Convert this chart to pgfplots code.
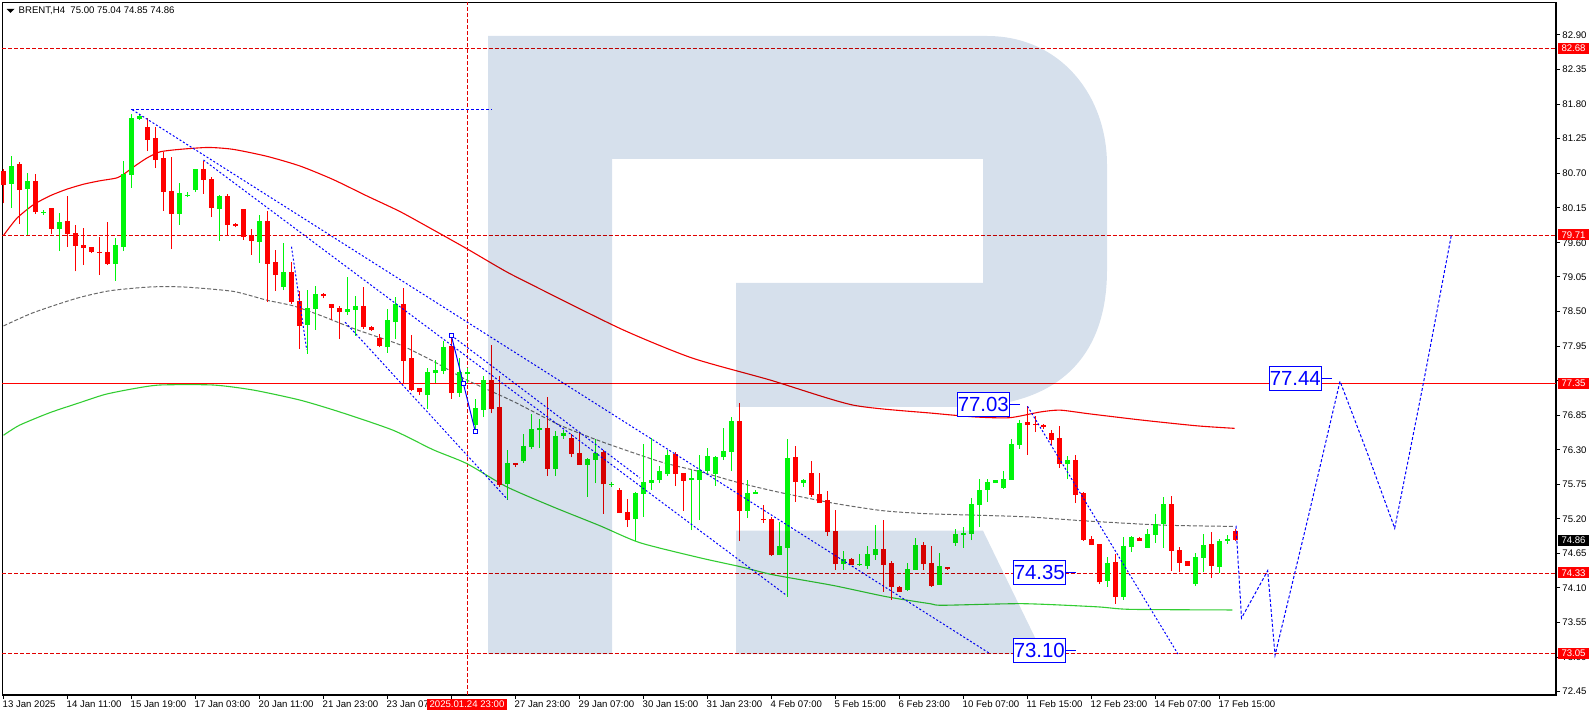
\documentclass[border=0pt]{standalone}
\usepackage{fontspec}
\setmainfont{Liberation Sans}
\usepackage{pgfplots}
\usepackage{pgfplotstable}
\pgfplotsset{compat=1.18}
\definecolor{cup}{RGB}{0,245,10}
\definecolor{cdn}{RGB}{255,0,0}
\definecolor{wm}{RGB}{214,224,236}
\definecolor{malime}{RGB}{50,205,50}
\definecolor{magray}{RGB}{105,105,105}
\definecolor{hl}{RGB}{225,0,0}

\pgfplotstableread{
i o h l c
1 80.53 80.98 80.15 80.82
3 80.45 80.70 79.71 80.58
5 80.07 80.12 80.04 80.08
7 79.81 80.07 79.46 79.92
14 79.26 79.67 78.99 79.56
15 79.53 80.89 79.46 80.69
16 80.67 81.64 80.47 81.58
17 81.56 81.64 81.55 81.61
22 80.05 80.54 79.88 80.39
23 80.35 80.40 80.32 80.36
24 80.43 80.77 80.40 80.77
27 80.13 80.35 79.62 80.34
32 79.61 80.03 79.27 79.94
35 78.89 79.59 78.84 79.13
38 78.29 78.84 77.83 78.56
39 78.54 78.91 78.21 78.78
43 78.49 79.05 78.44 78.54
44 78.52 78.75 78.11 78.59
48 77.93 78.54 77.84 78.36
49 78.33 78.73 78.06 78.62
53 77.17 77.60 76.95 77.54
54 77.52 77.73 77.36 77.57
55 77.55 78.03 77.50 77.93
57 77.20 77.76 77.14 77.54
58 77.50 77.60 77.36 77.54
59 76.69 77.11 76.61 76.96
60 76.93 77.47 76.82 77.41
63 75.75 76.30 75.50 76.09
65 76.12 76.55 76.09 76.36
66 76.34 76.87 76.31 76.63
67 76.61 76.79 76.33 76.65
69 75.99 76.60 75.88 76.52
70 76.52 76.61 76.47 76.57
73 76.06 76.17 75.55 76.15
74 76.14 76.47 75.77 76.25
76 75.75 75.79 75.71 75.76
79 75.20 75.63 74.85 75.61
80 75.60 76.39 75.23 75.79
81 75.77 76.49 75.66 75.82
82 75.82 76.04 75.77 75.96
83 75.91 76.30 75.88 76.22
86 75.82 75.98 75.02 75.85
87 75.82 76.22 75.18 75.98
88 75.96 76.33 75.91 76.20
89 75.91 76.20 75.72 76.18
90 76.18 76.65 76.14 76.28
91 76.26 76.82 75.96 76.76
93 75.33 75.82 75.21 75.61
94 75.60 75.66 75.60 75.63
97 74.62 75.15 74.62 74.77
98 74.74 76.47 73.96 76.17
100 75.77 75.83 75.71 75.82
105 74.48 74.69 74.39 74.56
107 74.47 74.64 74.45 74.48
108 74.45 74.77 74.40 74.64
109 74.62 75.10 74.55 74.72
113 74.07 74.50 74.05 74.40
114 74.39 74.90 74.39 74.78
117 74.15 74.66 74.15 74.45
119 74.82 75.04 74.77 74.96
120 74.94 75.07 74.74 74.97
121 74.96 75.53 74.86 75.44
122 75.42 75.83 75.07 75.66
123 75.66 75.83 75.47 75.79
124 75.77 75.82 75.77 75.82
125 75.69 75.96 75.68 75.83
126 75.82 76.47 75.82 76.39
127 76.38 76.77 76.31 76.73
133 76.07 76.20 75.83 76.14
138 74.21 74.59 74.12 74.50
140 73.96 74.91 73.91 74.77
141 74.75 74.93 74.67 74.91
143 74.74 75.04 74.74 74.96
144 74.94 75.28 74.82 75.12
145 75.12 75.55 74.74 75.44
149 74.17 74.66 74.13 74.59
150 74.58 74.96 74.35 74.78
152 74.43 74.88 74.34 74.85
153 74.85 74.94 74.80 74.88
}\uptab

\pgfplotstableread{
i o h l c
0 80.74 80.77 80.22 80.51
2 80.85 80.88 79.89 80.43
4 80.58 80.69 80.05 80.08
6 80.15 80.15 79.73 79.81
8 79.94 80.34 79.53 79.73
9 79.75 79.88 79.14 79.54
10 79.56 79.83 79.24 79.51
11 79.53 79.53 79.43 79.45
12 79.45 79.69 79.08 79.44
13 79.45 79.92 79.24 79.26
18 81.44 81.58 81.05 81.23
19 81.26 81.44 80.78 80.91
20 80.94 81.04 80.10 80.40
21 80.42 80.96 79.49 80.05
25 80.77 80.89 80.37 80.59
26 80.61 80.64 80.00 80.15
28 80.34 80.37 79.71 79.88
29 79.89 79.91 79.84 79.86
30 80.13 80.13 79.64 79.69
31 79.71 79.81 79.40 79.62
33 79.94 80.10 78.65 79.26
34 79.29 79.48 78.83 79.08
36 79.13 79.29 78.62 78.65
37 78.67 78.83 77.90 78.27
40 78.78 78.79 78.71 78.74
41 78.62 78.62 78.36 78.56
42 78.56 78.59 78.06 78.49
45 78.59 78.89 78.22 78.25
46 78.25 78.27 78.19 78.20
47 78.08 78.14 77.93 77.95
50 78.62 78.87 77.36 77.71
51 77.76 78.13 77.23 77.25
52 77.28 77.28 77.17 77.22
56 77.95 78.08 77.11 77.20
61 77.41 77.97 76.88 76.95
62 76.98 77.47 75.71 75.74
64 76.09 76.09 76.03 76.06
68 76.65 77.14 75.88 75.99
71 76.49 76.55 76.18 76.23
72 76.25 76.58 76.06 76.06
75 76.26 76.30 75.28 75.75
77 75.66 75.69 75.29 75.29
78 75.31 75.52 75.07 75.18
84 76.23 76.26 75.72 75.91
85 75.93 75.93 75.33 75.80
92 76.76 77.04 74.85 75.33
95 75.20 75.42 75.13 75.18
96 75.20 75.23 74.61 74.62
99 76.18 76.36 75.47 75.79
101 75.93 76.12 75.55 75.58
102 75.60 75.93 75.45 75.45
103 75.50 75.64 74.93 74.99
104 75.01 75.34 74.39 74.48
106 74.56 74.58 74.47 74.47
110 74.72 75.18 74.04 74.47
111 74.50 74.53 73.91 74.12
112 74.12 74.13 74.04 74.04
115 74.78 74.83 74.39 74.48
116 74.50 74.77 74.12 74.13
118 74.43 74.43 74.39 74.40
128 76.74 76.99 76.22 76.69
129 76.71 76.84 76.58 76.70
130 76.69 76.71 76.63 76.66
131 76.57 76.61 76.38 76.46
132 76.49 76.68 76.01 76.07
134 76.14 76.22 75.45 75.58
135 75.61 75.63 74.85 74.86
136 74.88 74.93 74.78 74.78
137 74.80 74.80 74.16 74.19
139 74.51 74.64 73.85 73.96
142 74.90 74.91 74.85 74.85
146 75.44 75.56 74.37 74.69
147 74.70 74.75 74.35 74.50
148 74.53 74.53 74.45 74.45
151 74.80 74.99 74.26 74.45
154 75.00 75.04 74.85 74.86
}\dntab

\begin{document}
\begin{tikzpicture}[x=1pt,y=1pt]
\path[use as bounding box] (0,0) rectangle (798,358);
\begin{axis}[
  at={(1.25pt,10.5pt)},anchor=south west,
  scale only axis,width=776.75pt,height=346.25pt,
  xmin=-0.125,xmax=194.06,ymin=72.397,ymax=83.417,
  clip=false,
  axis line style={line width=0.6pt,black},
  tick align=outside,major tick length=2pt,
  tick style={line width=0.5pt,black},
  xtick={0,8,...,152},
  xticklabels={13 Jan 2025,14 Jan 11:00,15 Jan 19:00,17 Jan 03:00,20 Jan 11:00,21 Jan 23:00,23 Jan 07,,27 Jan 23:00,29 Jan 07:00,30 Jan 15:00,31 Jan 23:00,4 Feb 07:00,5 Feb 15:00,6 Feb 23:00,10 Feb 07:00,11 Feb 15:00,12 Feb 23:00,14 Feb 07:00,17 Feb 15:00},
  xtick pos=bottom,
  ytick pos=right,yticklabel pos=right,
  ytick={72.45,73.00,73.55,74.10,74.65,75.20,75.75,76.30,76.85,77.40,77.95,78.50,79.05,79.60,80.15,80.70,81.25,81.80,82.35,82.90},
  yticklabels={72.45,,73.55,74.10,74.65,75.20,75.75,76.30,76.85,,77.95,78.50,79.05,,80.15,80.70,81.25,81.80,82.35,82.90},
  tick label style={font=\fontsize{4.8}{5.5}\selectfont,inner sep=0pt},
  xticklabel style={anchor=north west,xshift=-0.6pt,yshift=-0.8pt},
  yticklabel style={anchor=west,xshift=1pt},
]
% horizontal and vertical levels
\addplot[hl,line width=0.5pt,dash pattern=on 2pt off 1pt,forget plot] coordinates {(-0.125,82.68)(194.06,82.68)};
\addplot[hl,line width=0.5pt,dash pattern=on 2pt off 1pt,forget plot] coordinates {(-0.125,79.71)(194.06,79.71)};
\addplot[hl,line width=0.5pt,dash pattern=on 2pt off 1pt,forget plot] coordinates {(-0.125,74.33)(194.06,74.33)};
\addplot[hl,line width=0.5pt,dash pattern=on 2pt off 1pt,forget plot] coordinates {(-0.125,73.05)(194.06,73.05)};
\addplot[red,line width=0.5pt,forget plot] coordinates {(-0.125,77.35)(194.06,77.35)};
\addplot[hl,line width=0.5pt,dash pattern=on 2pt off 1pt,forget plot] coordinates {(57.97,72.397)(57.97,83.417)};
% moving averages
\addplot[red!95!black,line width=0.55pt,smooth,tension=0.4,forget plot] coordinates {
(0,79.71)(1.65,79.98)(3.7,80.195)(5.8,80.34)(7.9,80.445)(10,80.525)(12.06,80.58)(14.15,80.625)(15.2,80.70)(16.2,80.795)(17.9,80.94)(19.56,81.04)(22.06,81.08)(25.6,81.11)(28.7,81.08)(32.9,80.97)(37.06,80.815)(41.2,80.60)(45.4,80.34)(49.56,80.09)(53.7,79.80)(57.9,79.50)(62.06,79.19)(64.56,79.02)(77.06,78.23)(86.06,77.76)(95.8,77.41)(106.2,77.01)(116.2,76.88)(121.65,76.82)(125.8,76.81)(129.56,76.90)(132.06,76.93)(135.8,76.87)(142.4,76.77)(149.2,76.68)(153.9,76.64)};
\addplot[magray,line width=0.5pt,dash pattern=on 2pt off 1pt,smooth,tension=0.4,forget plot] coordinates {
(0,78.27)(3.7,78.48)(9.15,78.71)(13.3,78.83)(18.3,78.89)(22.5,78.89)(28.7,78.82)(32.9,78.68)(36.2,78.59)(39.56,78.44)(44.15,78.21)(49.56,77.97)(53.7,77.71)(57.9,77.41)(63.7,77.07)(69.56,76.69)(74.94,76.42)(82.06,76.11)(87.06,75.95)(92.06,75.77)(97.06,75.62)(103.7,75.45)(109.9,75.33)(115.8,75.28)(127.4,75.235)(134.9,75.17)(144.9,75.10)(153.7,75.08)};
\addplot[malime,line width=0.55pt,smooth,tension=0.4,forget plot] coordinates {
(0,76.53)(2,76.69)(5.8,76.89)(9.56,77.05)(12.7,77.18)(16.2,77.27)(19.56,77.33)(26.2,77.33)(31.2,77.25)(37.06,77.09)(42.06,76.90)(48.7,76.61)(53.7,76.30)(57.9,76.08)(62.9,75.71)(68.7,75.39)(74.56,75.09)(79.56,74.82)(87.06,74.58)(92.06,74.44)(96.2,74.31)(103.7,74.14)(110.4,73.96)(115.8,73.85)(117.4,73.825)(127.4,73.85)(136.7,73.80)(140.8,73.76)(153.6,73.75)};
% candles: wicks
\addplot[draw=none,no markers,forget plot,error bars/.cd,y dir=plus,y explicit,error mark=none,error bar style={draw=cup,solid,line width=0.55pt}]
  table[x=i,y=l,y error plus expr=\thisrow{h}-\thisrow{l}] {\uptab};
\addplot[draw=none,no markers,forget plot,error bars/.cd,y dir=plus,y explicit,error mark=none,error bar style={draw=cdn,solid,line width=0.55pt}]
  table[x=i,y=l,y error plus expr=\thisrow{h}-\thisrow{l}] {\dntab};
% candles: bodies
\addplot[draw=none,no markers,forget plot,error bars/.cd,y dir=plus,y explicit,error mark=none,error bar style={draw=cup,solid,line width=2.5pt}]
  table[x=i,y=o,y error plus expr=\thisrow{c}-\thisrow{o}] {\uptab};
\addplot[draw=none,no markers,forget plot,error bars/.cd,y dir=plus,y explicit,error mark=none,error bar style={draw=cdn,solid,line width=2.5pt}]
  table[x=i,y=c,y error plus expr=\thisrow{o}-\thisrow{c}] {\dntab};
% drawn trend lines
\addplot[blue,line width=0.5pt,dash pattern=on 1.5pt off 1pt,forget plot] coordinates {(15.94,81.72)(61.06,81.72)};
\addplot[blue,line width=0.5pt,dash pattern=on 1pt off 1pt,forget plot] coordinates {(16.1,81.71)(123.25,73.06)};
\addplot[blue,line width=0.5pt,dash pattern=on 1pt off 1pt,forget plot] coordinates {(25.0,80.91)(97.9,73.98)};
\addplot[blue,line width=0.5pt,dash pattern=on 1pt off 1pt,forget plot] coordinates {(42.7,78.33)(63,75.51)};
\addplot[blue,line width=0.5pt,dash pattern=on 1pt off 1pt,forget plot] coordinates {(36.0,79.53)(37.9,77.89)};
\addplot[blue,line width=0.5pt,dash pattern=on 1pt off 1pt,forget plot] coordinates {(55.97,78.12)(79.56,75.85)};
\addplot[blue,line width=0.5pt,dash pattern=on 1pt off 1pt,forget plot] coordinates {(128.0,76.99)(146.8,73.05)};
\addplot[blue,line width=0.5pt,mark=square*,mark size=1pt,mark options={solid,draw=blue,fill=white,line width=0.5pt},forget plot] coordinates {(55.97,78.12)(57.47,77.36)(58.97,76.59)};
% forecast
\addplot[blue,line width=0.5pt,dash pattern=on 1.5pt off 1pt,forget plot] coordinates {
(154.06,75.09)(154.75,73.62)(158.02,74.375)(158.94,73.03)(163.1,75.235)(167.06,77.39)(170.5,76.24)(173.9,75.05)(177.5,77.37)(181,79.73)};
\end{axis}
% overlay in picture pixels: watermark and annotations
\begin{axis}[
  at={(0pt,0pt)},anchor=south west,scale only axis,width=798pt,height=358pt,
  xmin=0,xmax=1596,ymin=0,ymax=716,y dir=reverse,hide axis,clip=false]
\fill[wm,blend mode=multiply,even odd rule]
  (axis cs:488,36) -- (axis cs:987,36)
  .. controls (axis cs:1060,36) and (axis cs:1107,95) .. (axis cs:1107,165)
  -- (axis cs:1107,270)
  .. controls (axis cs:1107,355) and (axis cs:1060,407) .. (axis cs:960,407)
  -- (axis cs:736,407) -- (axis cs:736,283) -- (axis cs:983,283)
  -- (axis cs:983,159) -- (axis cs:612,159) -- (axis cs:612,654)
  -- (axis cs:488,654) -- cycle;
\fill[wm,blend mode=multiply]
  (axis cs:736,530.7) -- (axis cs:983,530.7) -- (axis cs:1043,654) -- (axis cs:736,654) -- cycle;
% title
\fill[black] (axis cs:6.5,9) -- (axis cs:14.5,9) -- (axis cs:10.5,13) -- cycle;
\node[anchor=west,inner sep=0pt,font=\fontsize{4.8}{5.5}\selectfont] at (axis cs:18.3,11) {BRENT,H4\ \ 75.00 75.04 74.85 74.86};
% tick labels that peek out under the tags
\node[anchor=north west,inner sep=0pt,font=\fontsize{4.8}{5.5}\selectfont] at (axis cs:1562,238.9) {79.60};
\node[anchor=north west,inner sep=0pt,font=\fontsize{4.8}{5.5}\selectfont] at (axis cs:1562,653.7) {73.00};
% right price tags
\tikzset{tag/.style={fill=red,text=white,inner sep=0pt,minimum width=15.5pt,minimum height=5.4pt,font=\fontsize{4.8}{5.5}\selectfont}}
\node[tag] at (axis cs:1573.5,48.4) {82.68};
\node[tag] at (axis cs:1573.5,234.7) {79.71};
\node[tag] at (axis cs:1573.5,383.5) {77.35};
\node[tag] at (axis cs:1573.5,572.7) {74.33};
\node[tag] at (axis cs:1573.5,653.3) {73.05};
\node[tag,fill=black] at (axis cs:1573.5,540.5) {74.86};
\node[fill=red,text=white,inner sep=0pt,minimum width=39.75pt,minimum height=5.4pt,font=\fontsize{4.8}{5.5}\selectfont] at (axis cs:467,704.4) {2025.01.24 23:00};
% big forecast labels
\tikzset{big/.style={draw=blue,fill=white,text=blue,line width=0.5pt,inner sep=0pt,minimum width=26pt,minimum height=12pt,font=\fontsize{10.2}{11}\selectfont}}
\draw[blue,line width=0.5pt] (axis cs:1009,404.3) -- (axis cs:1020,404.3);
\node[big] at (axis cs:983.3,404.3) {77.03};
\draw[blue,line width=0.5pt] (axis cs:1065,572.7) -- (axis cs:1076,572.7);
\node[big] at (axis cs:1039.3,572.3) {74.35};
\draw[blue,line width=0.5pt] (axis cs:1065,650.3) -- (axis cs:1076,650.3);
\node[big] at (axis cs:1039.3,650.3) {73.10};
\draw[blue,line width=0.5pt] (axis cs:1321,378.5) -- (axis cs:1332,378.5);
\node[big] at (axis cs:1295.3,378.6) {77.44};
\end{axis}
\end{tikzpicture}
\end{document}
